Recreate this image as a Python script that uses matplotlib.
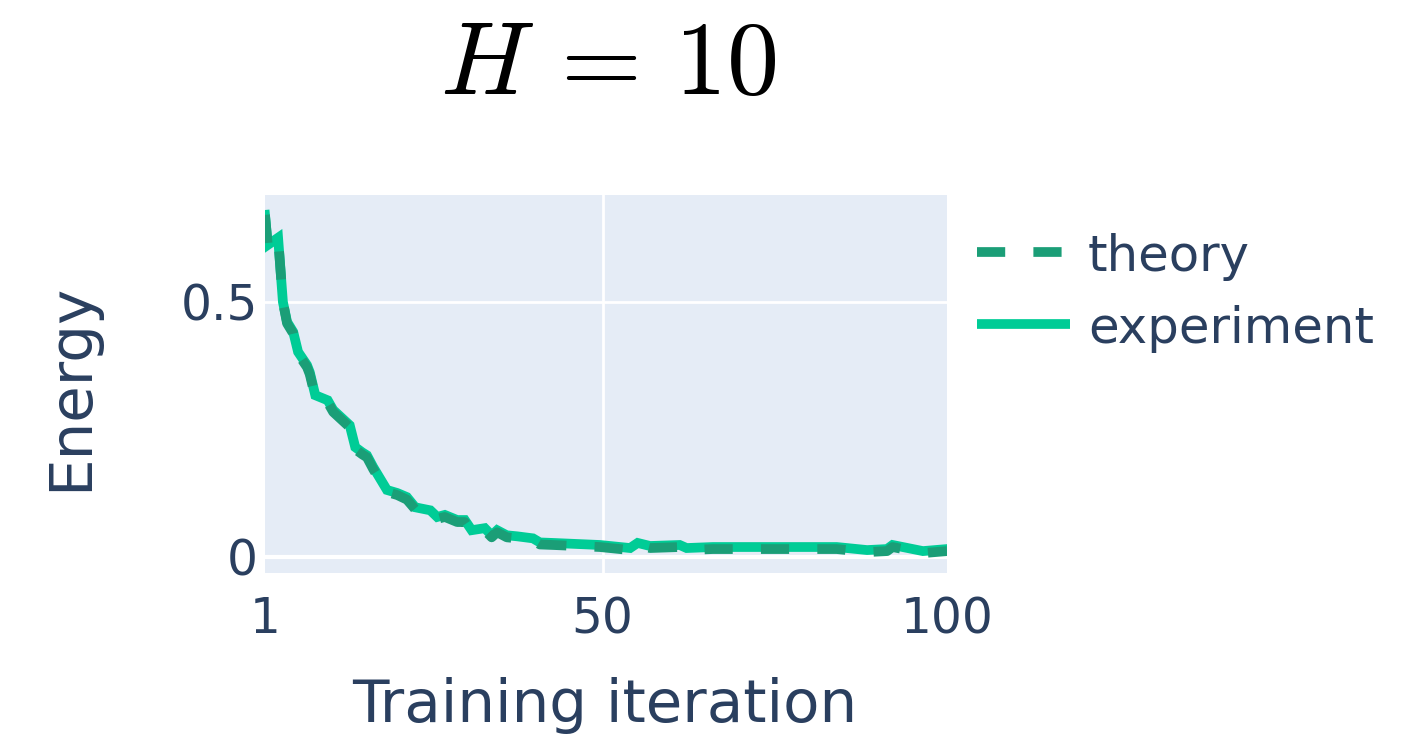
import matplotlib
matplotlib.use("Agg")
import matplotlib.pyplot as plt
from matplotlib.lines import Line2D

# ---- data ----
iterations = [1, 1.4, 2.9, 3.6, 4.2, 5.1, 5.8, 7.1, 7.5, 8.3, 10.1, 10.9, 13.3, 14.1,
              15.1, 15.8, 16.7, 18.7, 20.2, 21.6, 22.8, 25.0, 26.0, 27.1, 28.9, 30.0,
              31.0, 32.9, 33.9, 34.7, 36.1, 37.6, 39.9, 40.9, 42.8, 49.6, 54.0, 55.1,
              56.9, 61.2, 62.2, 66.0, 75.7, 84.0, 88.4, 91.3, 92.1, 96.5, 100]
experiment = [0.671, 0.612, 0.626, 0.500, 0.461, 0.441, 0.402, 0.376, 0.362, 0.317,
              0.307, 0.288, 0.258, 0.215, 0.205, 0.199, 0.176, 0.131, 0.125, 0.117,
              0.097, 0.091, 0.078, 0.082, 0.072, 0.072, 0.052, 0.056, 0.042, 0.052,
              0.042, 0.040, 0.036, 0.028, 0.027, 0.023, 0.017, 0.027, 0.021, 0.023,
              0.017, 0.019, 0.019, 0.019, 0.013, 0.015, 0.023, 0.011, 0.015]
theory = [0.671, 0.612, 0.626, 0.500, 0.458, 0.438, 0.398, 0.372, 0.358, 0.313,
          0.303, 0.284, 0.254, 0.211, 0.201, 0.195, 0.172, 0.127, 0.121, 0.112,
          0.093, 0.087, 0.074, 0.078, 0.068, 0.068, 0.048, 0.052, 0.038, 0.048,
          0.038, 0.036, 0.032, 0.024, 0.023, 0.019, 0.013, 0.023, 0.017, 0.019,
          0.013, 0.015, 0.015, 0.015, 0.009, 0.011, 0.019, 0.007, 0.011]
x_ticks = [1, 50, 100]
x_ticklabels = ["1", "50", "100"]
y_ticks = [0, 0.5]
y_ticklabels = ["0", "0.5"]
series_names = ["theory", "experiment"]

TEXT = "#2a3f5f"
BG = "#E5ECF6"
C_THEORY = "#1b9e77"
C_EXP = "#00cc96"
LW = 7.0

W, H = 1420, 741
fig = plt.figure(figsize=(W / 100, H / 100), dpi=100)
plt.rcParams["mathtext.fontset"] = "cm"

ax = fig.add_axes([265 / W, 1 - 573 / H, (947 - 265) / W, (573 - 195) / H])
ax.set_facecolor(BG)
for s in ax.spines.values():
    s.set_visible(False)

ax.set_xlim(1, 100)
ax.set_ylim(-0.032, 0.710)

# grid
ax.axvline(50, color="white", lw=2.0, zorder=1)
ax.axhline(0.5, color="white", lw=2.0, zorder=1)
ax.axhline(0.0, color="white", lw=3.0, zorder=1)

ax.plot(iterations, experiment, color=C_EXP, lw=LW, solid_joinstyle="miter", zorder=3)
ax.plot(iterations, theory, color=C_THEORY, lw=LW, dashes=(2.9, 2.9),
        dash_capstyle="butt", zorder=4)

ax.set_xticks(x_ticks)
ax.set_xticklabels(x_ticklabels)
ax.set_yticks(y_ticks)
ax.set_yticklabels(y_ticklabels)
ax.tick_params(axis="both", length=0, labelsize=35, labelcolor=TEXT)
ax.tick_params(axis="x", pad=16)
ax.tick_params(axis="y", pad=5)

# axis titles
fig.text(605 / W, 1 - 706 / H, "Training iteration", fontsize=42.8, color=TEXT,
         ha="center", va="center")
fig.text(71 / W, 1 - 387 / H, "Energy", fontsize=42.8, color=TEXT,
         ha="center", va="center", rotation=90)

# title
fig.text(608 / W, 1 - 94 / H, r"$H\, =\, 10$", fontsize=75, color="black",
         ha="center", va="baseline")

# legend (manual)
leg_rows = [(252, C_THEORY, (2.9, 2.9)), (324, C_EXP, None)]
for (yy, col, dash), name in zip(leg_rows, series_names):
    ln = Line2D([977 / W, 1070 / W], [1 - yy / H, 1 - yy / H], color=col, lw=LW,
                transform=fig.transFigure, solid_capstyle="butt", dash_capstyle="butt")
    if dash:
        ln.set_dashes(dash)
    fig.add_artist(ln)
    fig.text(1088 / W, 1 - yy / H, name, fontsize=35.8, color=TEXT,
             ha="left", va="center_baseline")

fig.savefig("out.png", dpi=100, facecolor="white")
